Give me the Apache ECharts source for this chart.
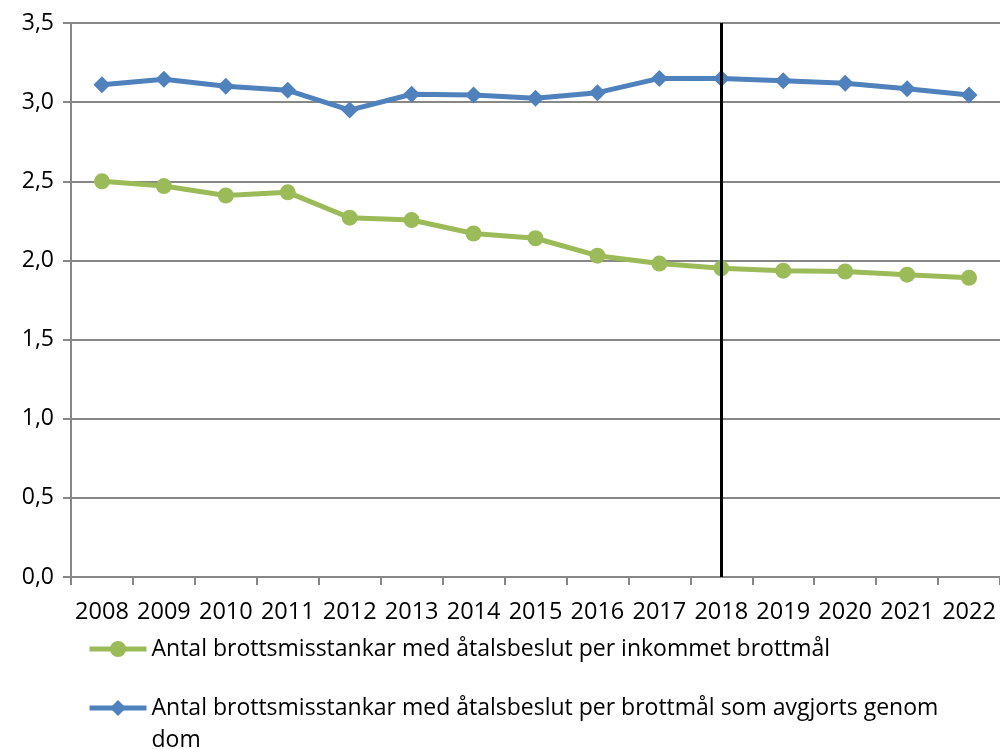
<!DOCTYPE html>
<html>
<head>
<meta charset="utf-8">
<script src="https://cdn.jsdelivr.net/npm/echarts@6/dist/echarts.min.js"></script>
<style>
  html, body { margin: 0; padding: 0; background: #fff; }
  #chart { width: 1000px; height: 749px; }
</style>
</head>
<body>
<div id="chart"></div>
<script>
const years = ['2008', '2009', '2010', '2011', '2012', '2013', '2014', '2015',
  '2016', '2017', '2018', '2019', '2020', '2021', '2022'];

const perInkommet = [2.50, 2.47, 2.41, 2.43, 2.27, 2.255, 2.17, 2.14,
  2.03, 1.98, 1.95, 1.935, 1.93, 1.91, 1.89];

const perDom = [3.11, 3.145, 3.10, 3.075, 2.95, 3.05, 3.045, 3.025,
  3.06, 3.15, 3.15, 3.135, 3.12, 3.085, 3.045];

const nameGreen = 'Antal brottsmisstankar med åtalsbeslut per inkommet brottmål';
const nameBlue = 'Antal brottsmisstankar med åtalsbeslut per brottmål som avgjorts genom dom';

const fontFamily = '"Open Sans", sans-serif';
const gridColor = '#878787';

const chart = echarts.init(document.getElementById('chart'));

// legend text is centred on its icon, so the wrapped blue label gets a blank
// first line to keep the icon next to the first text line (as in Excel)
function legendText(name) {
  if (name === nameBlue) {
    return '\u00a0\n' + name.replace(' genom dom', ' genom\ndom');
  }
  return name;
}

chart.setOption({
  animation: false,
  backgroundColor: '#ffffff',
  textStyle: { fontFamily: fontFamily, color: '#000' },
  grid: { left: 71, right: 0, top: 23, bottom: 172 },
  legend: {
    orient: 'vertical',
    left: 82,
    top: 628,
    height: 400,
    itemGap: -5,
    itemWidth: 57,
    itemHeight: 20,
    lineStyle: { width: 5 },
    data: [nameGreen, nameBlue],
    formatter: legendText,
    textStyle: {
      fontFamily: fontFamily,
      fontSize: 23,
      color: '#000',
      lineHeight: 32
    }
  },
  xAxis: {
    type: 'category',
    data: years,
    boundaryGap: true,
    axisLine: { lineStyle: { color: gridColor, width: 2 } },
    axisTick: { show: true, length: 8, lineStyle: { color: gridColor, width: 2 } },
    axisLabel: { fontSize: 23.5, color: '#000', margin: 23, interval: 0 }
  },
  yAxis: {
    type: 'value',
    min: 0,
    max: 3.5,
    interval: 0.5,
    axisLine: { show: true, lineStyle: { color: gridColor, width: 2 } },
    axisTick: { show: true, length: 8, lineStyle: { color: gridColor, width: 2 } },
    splitLine: { lineStyle: { color: gridColor, width: 2 } },
    axisLabel: {
      fontSize: 23,
      color: '#000',
      margin: 17,
      formatter: v => v.toFixed(1).replace('.', ',')
    }
  },
  series: [
    {
      name: nameGreen,
      type: 'line',
      data: perInkommet,
      symbol: 'circle',
      symbolSize: 16,
      lineStyle: { color: '#9BBB59', width: 5 },
      itemStyle: { color: '#9BBB59' },
      z: 3
    },
    {
      name: nameBlue,
      type: 'line',
      data: perDom,
      symbol: 'diamond',
      symbolSize: 17,
      lineStyle: { color: '#4F81BD', width: 5 },
      itemStyle: { color: '#4F81BD' },
      z: 3,
      markLine: {
        silent: true,
        symbol: 'none',
        label: { show: false },
        lineStyle: { color: '#000', width: 3, type: 'solid' },
        data: [{ xAxis: '2018' }]
      }
    }
  ]
});
</script>
</body>
</html>
